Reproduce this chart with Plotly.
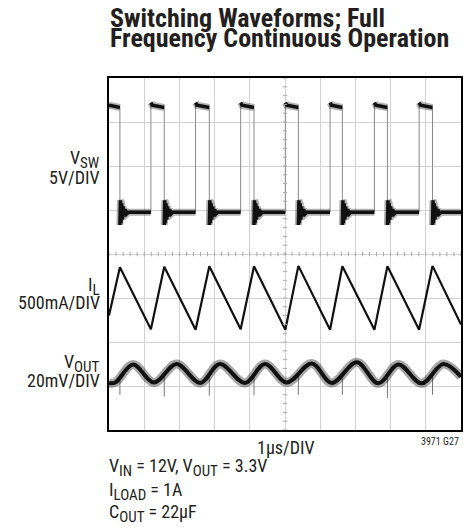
import plotly.graph_objects as go

# ---------------- data (graticule divisions: x 0..10, y 0..8) ----------------
# switch node V_SW
vsw_rise = [1.19, 2.46, 3.74, 5.01, 6.28, 7.54, 8.81]
vsw_fall = [0.31, 1.57, 2.85, 4.12, 5.38, 6.63, 7.91, 9.19]
vsw_high_start = 7.44
vsw_high_after = 7.38
vsw_high_end = 7.33
vsw_low = 4.95
ring_dt = [0.0, 0.015, 0.03, 0.05, 0.07, 0.09, 0.12, 0.15, 0.19, 0.24]
ring_v = [4.66, 5.22, 4.70, 5.15, 4.78, 5.08, 4.85, 5.02, 4.91, 4.95]

# inductor current I_L
il_t = [0.0, 0.31, 1.19, 1.57, 2.46, 2.85, 3.74, 4.12, 5.01, 5.38,
        6.28, 6.63, 7.54, 7.91, 8.81, 9.19, 10.0]
il_v = [2.60, 3.70, 2.29, 3.71, 2.28, 3.72, 2.29, 3.72, 2.28, 3.73,
        2.28, 3.72, 2.28, 3.72, 2.28, 3.73, 2.40]

# output ripple V_OUT
vout_t = [0.0, 0.18, 0.68, 1.28, 1.92, 2.59, 3.15, 3.86, 4.43, 5.05,
          5.76, 6.33, 7.04, 7.65, 8.22, 8.88, 9.50, 10.0]
vout_v = [1.07, 1.08, 1.49, 1.08, 1.50, 1.07, 1.50, 1.07, 1.50, 1.08,
          1.51, 1.07, 1.54, 1.06, 1.49, 1.06, 1.50, 1.21]
vout_spike_top = 1.22
vout_spike_low = [0.80, 0.76, 0.78, 0.79, 0.80, 0.80, 0.73, 0.80]

# ---------------- build V_SW traces ----------------
hx, hy = [], []
f0 = vsw_fall[0]
hx += [0.0, f0, None]
hy += [vsw_high_after, vsw_high_end, None]
for r in vsw_rise:
    f = min(ff for ff in vsw_fall if ff > r)
    hx += [r, r + 0.04, f, None]
    hy += [vsw_high_start, vsw_high_after, vsw_high_end, None]

lx, ly = [], []
for f in vsw_fall:
    later = [rr for rr in vsw_rise if rr > f]
    end = later[0] if later else 10.0
    for dt, v in zip(ring_dt, ring_v):
        lx.append(f + dt)
        ly.append(v)
    lx += [end, None]
    ly += [vsw_low, None]

ex, ey = [], []
for r in vsw_rise:
    ex += [r, r, None]
    ey += [vsw_low, vsw_high_start, None]
for f in vsw_fall:
    ex += [f, f, None]
    ey += [vsw_high_end, ring_v[0], None]

sx, sy = [], []
for f, lo in zip(vsw_fall, vout_spike_low):
    sx += [f, f, None]
    sy += [vout_spike_top, lo, None]

fig = go.Figure()
fig.add_trace(go.Scatter(x=ex, y=ey, mode="lines",
                         line=dict(color="#8a8a8a", width=1), hoverinfo="skip"))
fig.add_trace(go.Scatter(x=hx, y=hy, mode="lines",
                         line=dict(color="rgba(0,0,0,0.3)", width=7), hoverinfo="skip"))
fig.add_trace(go.Scatter(x=hx, y=hy, mode="lines",
                         line=dict(color="#111", width=3.5), hoverinfo="skip"))
fig.add_trace(go.Scatter(x=lx, y=ly, mode="lines",
                         line=dict(color="rgba(0,0,0,0.3)", width=7), hoverinfo="skip"))
fig.add_trace(go.Scatter(x=lx, y=ly, mode="lines",
                         line=dict(color="#111", width=3.5), hoverinfo="skip"))
fig.add_trace(go.Scatter(x=il_t, y=il_v, mode="lines",
                         line=dict(color="#111", width=2.2), hoverinfo="skip"))
fig.add_trace(go.Scatter(x=sx, y=sy, mode="lines",
                         line=dict(color="#777", width=1), hoverinfo="skip"))
fig.add_trace(go.Scatter(x=vout_t, y=vout_v, mode="lines",
                         line=dict(color="rgba(0,0,0,0.35)", width=9, shape="spline", smoothing=1.0),
                         hoverinfo="skip"))
fig.add_trace(go.Scatter(x=vout_t, y=vout_v, mode="lines",
                         line=dict(color="#111", width=4, shape="spline", smoothing=1.0),
                         hoverinfo="skip"))

# graticule center ticks
shapes = []
for k in range(51):
    xv = k * 0.2
    shapes.append(dict(type="line", xref="x", yref="y", x0=xv, x1=xv, y0=3.95, y1=4.05,
                       line=dict(color="#aaa", width=1)))
for k in range(41):
    yv = k * 0.2
    shapes.append(dict(type="line", xref="x", yref="y", x0=4.94, x1=5.06, y0=yv, y1=yv,
                       line=dict(color="#aaa", width=1)))

FONT = "Liberation Sans Narrow, Arial Narrow, Roboto Condensed, Liberation Sans, sans-serif"


def py(pixel):
    return (430 - pixel) / 352.0


def px(pixel):
    return (pixel - 109) / 352.0


def sub(s):
    return '<sub><span style="font-size:15px">' + s + '</span></sub>'


ann = []
ann.append(dict(text="<b>Switching Waveforms; Full</b>", x=px(108), y=py(18),
                xanchor="left", yanchor="middle", font=dict(size=26, color="#231f20")))
ann.append(dict(text="<b>Frequency Continuous Operation</b>", x=px(108), y=py(38),
                xanchor="left", yanchor="middle", font=dict(size=26, color="#231f20")))
left_labels = [("V" + sub("SW"), 159), ("5V/DIV", 177.5),
               ("I" + sub("L"), 286), ("500mA/DIV", 302),
               ("V" + sub("OUT"), 363), ("20mV/DIV", 380)]
for t, yp in left_labels:
    ann.append(dict(text=t, x=px(102), y=py(yp), xanchor="right", yanchor="middle",
                    font=dict(size=18, color="#231f20")))
ann.append(dict(text="1µs/DIV", x=px(286), y=py(448), xanchor="center", yanchor="middle",
                font=dict(size=18, color="#231f20")))
ann.append(dict(text="3971 G27", x=px(461), y=py(441), xanchor="right", yanchor="middle",
                font=dict(size=10, color="#231f20")))
bottom = [("V" + sub("IN") + " = 12V, V" + sub("OUT") + " = 3.3V", 467),
          ("I" + sub("LOAD") + " = 1A", 491),
          ("C" + sub("OUT") + " = 22µF", 513)]
for t, yp in bottom:
    ann.append(dict(text=t, x=px(107), y=py(yp), xanchor="left", yanchor="middle",
                    font=dict(size=18, color="#231f20")))
for a in ann:
    a.update(xref="paper", yref="paper", showarrow=False)

fig.update_layout(
    width=474, height=529,
    margin=dict(l=109, r=13, t=78, b=99, pad=0),
    paper_bgcolor="white", plot_bgcolor="white",
    showlegend=False,
    font=dict(family=FONT, color="#231f20"),
    shapes=shapes, annotations=ann,
    xaxis=dict(range=[0, 10], dtick=1, tick0=0, showticklabels=False, ticks="",
               showgrid=True, gridcolor="#d2d2d2", gridwidth=1, zeroline=False,
               showline=True, mirror=True, linecolor="black", linewidth=2, fixedrange=True),
    yaxis=dict(range=[0, 8], dtick=1, tick0=0, showticklabels=False, ticks="",
               showgrid=True, gridcolor="#d2d2d2", gridwidth=1, zeroline=False,
               showline=True, mirror=True, linecolor="black", linewidth=2, fixedrange=True),
)

fig.write_html("out.html", config={"displayModeBar": False},
               post_script="document.body.style.margin='0px';document.body.style.overflow='hidden';")
